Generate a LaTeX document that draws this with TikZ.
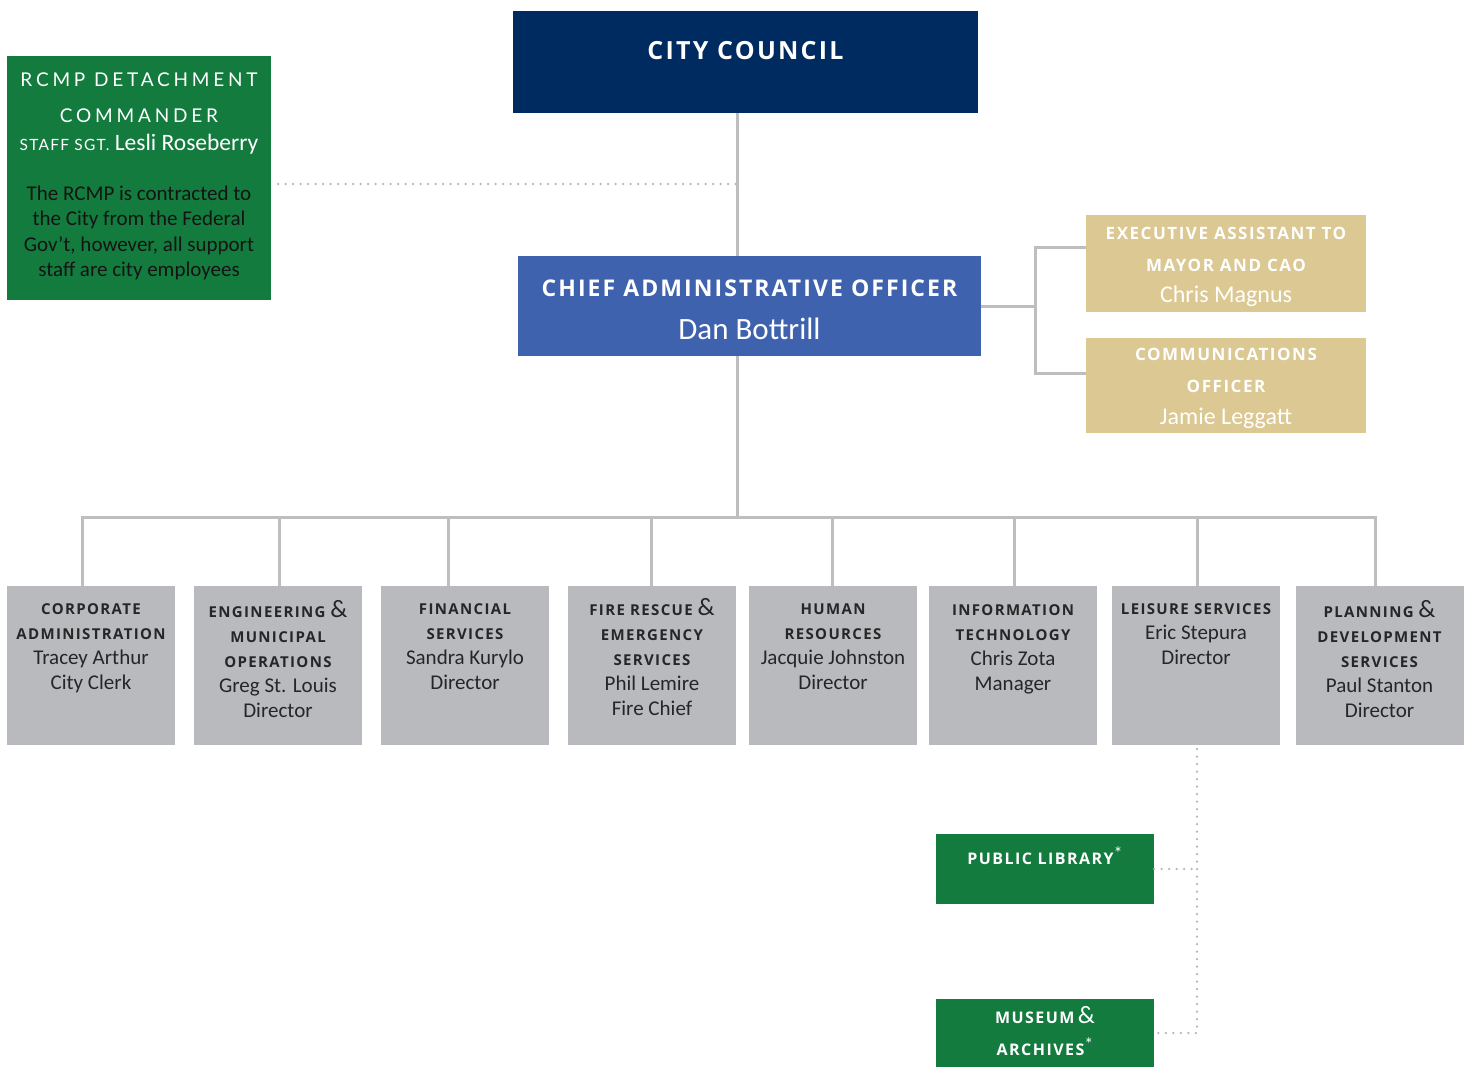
\documentclass[tikz,border=0pt]{standalone}
\usepackage{fontspec}
\setmainfont{Carlito}
\newfontfamily\capsfont[LetterSpace=9]{Open Sans}
\newfontfamily\widecaps[LetterSpace=20]{Lato}

\definecolor{navy}{HTML}{002B60}
\definecolor{caoblue}{HTML}{3F62AE}
\definecolor{rcmpgreen}{HTML}{137B3E}
\definecolor{tan}{HTML}{DBC892}
\definecolor{deptgray}{HTML}{B9BABE}
\definecolor{linegray}{HTML}{BEBEC1}
\definecolor{dotgray}{HTML}{B4B4B8}
\definecolor{ink}{HTML}{262626}

\newcommand\hd[2][15]{{\capsfont\bfseries\fontsize{#1}{\baselineskip}\selectfont #2}}
\newcommand\amp{{\normalfont\fontsize{25}{\baselineskip}\selectfont\&}}
\newcommand\librarystar{{\normalfont\fontsize{18}{\baselineskip}\selectfont\raisebox{5pt}{*}}}

\tikzset{
  orgbox/.style={rectangle, inner sep=0pt},
  deptbox/.style={orgbox, fill=deptgray, minimum width=168pt, minimum height=159pt},
  depttext/.style={anchor=north, align=center, inner sep=0pt, text=ink, font=\fontsize{21}{25}\selectfont},
  toptext/.style={anchor=north, align=center, inner sep=0pt, text=white},
  orgline/.style={draw=linegray, line width=3pt},
  dotline/.style={draw=dotgray, line width=2.5pt, line cap=round, dash pattern=on 0pt off 7.5pt},
}

\begin{document}
\begin{tikzpicture}[x=1pt, y=-1pt]
\useasboundingbox (0,0) rectangle (1474,1068);

\node[orgbox, fill=navy, minimum width=465pt, minimum height=102pt] (council) at (745.5,62) {};
\node[anchor=base, inner sep=0pt, text=white] (council-t) at ([yshift=-49pt]council.north) {\hd[25]{CITY COUNCIL}};

\node[orgbox, fill=caoblue, minimum width=463pt, minimum height=100pt] (cao) at (749.5,306) {};
\node[anchor=base, inner sep=0pt, text=white] (cao-h) at ([yshift=-41pt]cao.north) {\hd[23]{CHIEF ADMINISTRATIVE OFFICER}};
\node[anchor=base, inner sep=0pt, text=white, font=\fontsize{31}{36}\selectfont] (cao-n) at ([yshift=-84pt]cao.north) {Dan Bottrill};

\node[orgbox, fill=rcmpgreen, minimum width=264pt, minimum height=244pt] (rcmp) at (139,178) {};
\node[toptext, font=\widecaps\fontsize{19}{36}\selectfont] (rcmp-h) at ([yshift=-17pt]rcmp.north) {RCMP DETACHMENT\\COMMANDER};
\node[anchor=base, inner sep=0pt, text=white, font=\fontsize{23.5}{25}\selectfont] (rcmp-n) at ([yshift=-95pt]rcmp.north) {{\widecaps\addfontfeature{LetterSpace=8}\fontsize{15.5}{20}\selectfont STAFF SGT.} Lesli Roseberry};
\node[toptext, text=black!92, font=\fontsize{21}{25.3}\selectfont] (rcmp-b) at ([yshift=-130pt]rcmp.north) {The RCMP is contracted to\\the City from the Federal\\Gov't, however, all support\\staff are city employees};

\node[orgbox, fill=tan, minimum width=280pt, minimum height=97pt] (exec) at (1226,263.5) {};
\node[toptext, font=\fontsize{15}{32}\selectfont] (exec-h) at ([yshift=-12pt]exec.north) {\hd[17]{EXECUTIVE ASSISTANT TO}\\\hd[17]{MAYOR AND CAO}};
\node[anchor=base, inner sep=0pt, text=white, font=\fontsize{24}{25}\selectfont] (exec-n) at ([yshift=-88pt]exec.north) {Chris Magnus};

\node[orgbox, fill=tan, minimum width=280pt, minimum height=95pt] (comm) at (1226,385.5) {};
\node[toptext, font=\fontsize{15}{32}\selectfont] (comm-h) at ([yshift=-10pt]comm.north) {\hd[17]{COMMUNICATIONS}\\\hd[17]{OFFICER}};
\node[anchor=base, inner sep=0pt, text=white, font=\fontsize{24}{25}\selectfont] (comm-n) at ([yshift=-87pt]comm.north) {Jamie Leggatt};

\node[deptbox] (corp) at (91,665.5) {};
\node[deptbox] (eng) at (278,665.5) {};
\node[deptbox] (fin) at (465,665.5) {};
\node[deptbox] (fire) at (652,665.5) {};
\node[deptbox] (hr) at (833,665.5) {};
\node[deptbox] (it) at (1013,665.5) {};
\node[deptbox] (leis) at (1196,665.5) {};
\node[deptbox] (plan) at (1379.5,665.5) {};

\node[depttext] (corp-t) at ([yshift=-18pt]corp.north) {\hd{CORPORATE}\\\hd{ADMINISTRATION}\\Tracey Arthur\\City Clerk};
\node[depttext] (eng-t) at ([yshift=-14pt]eng.north) {\hd{ENGINEERING} \amp\\\hd{MUNICIPAL}\\\hd{OPERATIONS}\\Greg St. Louis\\Director};
\node[depttext] (fin-t) at ([yshift=-18pt]fin.north) {\hd{FINANCIAL}\\\hd{SERVICES}\\Sandra Kurylo\\Director};
\node[depttext] (fire-t) at ([yshift=-12pt]fire.north) {\hd{FIRE RESCUE} \amp\\\hd{EMERGENCY}\\\hd{SERVICES}\\Phil Lemire\\Fire Chief};
\node[depttext] (hr-t) at ([yshift=-18pt]hr.north) {\hd{HUMAN}\\\hd{RESOURCES}\\Jacquie Johnston\\Director};
\node[depttext] (it-t) at ([yshift=-19pt]it.north) {\hd{INFORMATION}\\\hd{TECHNOLOGY}\\Chris Zota\\Manager};
\node[depttext] (leis-t) at ([yshift=-18pt]leis.north) {\hd{LEISURE SERVICES}\\Eric Stepura\\Director};
\node[depttext] (plan-t) at ([yshift=-14pt]plan.north) {\hd{PLANNING} \amp\\\hd{DEVELOPMENT}\\\hd{SERVICES}\\Paul Stanton\\Director};

\node[orgbox, fill=rcmpgreen, minimum width=218pt, minimum height=70pt] (lib) at (1045,869) {};
\node[toptext, font=\fontsize{15}{32}\selectfont] (lib-t) at ([yshift=-13pt]lib.north) {\hd[16]{PUBLIC LIBRARY}\librarystar};
\node[orgbox, fill=rcmpgreen, minimum width=218pt, minimum height=68pt] (museum) at (1045,1033) {};
\node[toptext, font=\fontsize{15}{32}\selectfont] (museum-t) at ([yshift=-7pt]museum.north) {\hd[16]{MUSEUM} \amp\\\hd[16]{ARCHIVES}\librarystar};

\coordinate (spine) at (737,517);
\draw[orgline] (council.south -| spine) -- (cao.north -| spine);
\draw[orgline] (cao.south -| spine) -- (spine);
\draw[orgline] (spine) -| ([xshift=-9pt]corp.north);
\draw[orgline] (spine) -| ([xshift=1pt]eng.north);
\draw[orgline] (spine) -| ([xshift=-17pt]fin.north);
\draw[orgline] (spine) -| ([xshift=-1pt]fire.north);
\draw[orgline] (spine) -| ([xshift=-1pt]hr.north);
\draw[orgline] (spine) -| ([xshift=1pt]it.north);
\draw[orgline] (spine) -| ([xshift=1pt]leis.north);
\draw[orgline] (spine) -| ([xshift=-4.5pt]plan.north);

\coordinate (fork) at ([xshift=54pt]cao.east);
\draw[orgline] (cao.east) -- (fork);
\draw[orgline] ([yshift=16.5pt]exec.west) -| (fork) |- ([yshift=12.5pt]comm.west);

\draw[dotline] ([xshift=7pt,yshift=-6pt]rcmp.east) coordinate (rcmp-d) -- (rcmp-d -| spine);
\draw[dotline] ([xshift=1pt,yshift=-4pt]leis.south) |- (museum.east);
\draw[dotline] (lib.east) -- (lib.east -| leis.south);
\end{tikzpicture}
\end{document}
